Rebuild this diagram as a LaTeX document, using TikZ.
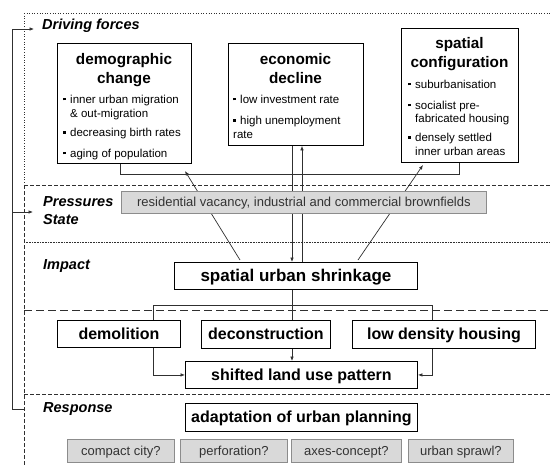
\documentclass[tikz,border=0pt]{standalone}
\usepackage{fontspec}
\setmainfont{Liberation Sans}
\usetikzlibrary{arrows.meta}
\pgfdeclarelayer{bg}
\pgfsetlayers{bg,main}
\definecolor{grayfill}{HTML}{D9D9D9}
\definecolor{grayline}{HTML}{8C8C8C}
\definecolor{graytext}{HTML}{333333}
\definecolor{linec}{HTML}{303030}
\newcommand{\blt}{\makebox[7pt][l]{\rule[2.6pt]{2.6pt}{2.6pt}}}
\begin{document}
\begin{tikzpicture}[x=1pt,y=-1pt,
  box/.style={draw=black, line width=0.9pt, fill=white, inner sep=0pt, anchor=north west,
    font=\fontsize{16}{18}\selectfont\bfseries, text height=11pt, text depth=0pt},
  graybox/.style={draw=grayline, line width=0.8pt, fill=grayfill, inner sep=0pt, anchor=north west,
    text=graytext, font=\fontsize{13}{15}\selectfont, text height=9pt, text depth=0pt},
  ttl/.style={font=\fontsize{15.3}{17}\selectfont\bfseries, anchor=base, inner sep=0pt},
  bul/.style={font=\fontsize{11.5}{13}\selectfont, anchor=base west, inner sep=0pt},
  hdr/.style={font=\fontsize{14.5}{16}\selectfont\bfseries\itshape, anchor=base west, inner sep=0pt},
  conn/.style={draw=linec, line width=0.7pt},
  arr/.style={conn, -{Latex[length=4.5pt,width=3.6pt]}},
  sep/.style={draw=linec, line width=0.6pt}
]
\useasboundingbox (0,0) rectangle (550,466);

% ---- top boxes ----
\node[box, minimum width=134pt, minimum height=120pt] (demo) at (57,43) {};
\node[box, minimum width=135pt, minimum height=102pt] (econ) at (228,43) {};
\node[box, minimum width=117pt, minimum height=134pt] (spat) at (401,28) {};

\node[ttl] (demoT1) at (124,64) {demographic};
\node[ttl] (demoT2) at (124,83) {change};
\node[bul] (demoB1) at (63,103) {\blt inner urban migration};
\node[bul] (demoB2) at (70,117) {\& out-migration};
\node[bul] (demoB3) at (63,136.5) {\blt decreasing birth rates};
\node[bul] (demoB4) at (63,157) {\blt aging of population};

\node[ttl] (econT1) at (295.5,64) {economic};
\node[ttl] (econT2) at (295.5,83) {decline};
\node[bul] (econB1) at (233,103) {\blt low investment rate};
\node[bul] (econB2) at (233,124.5) {\blt high unemployment};
\node[bul] (econB3) at (233,138) {rate};

\node[ttl] (spatT1) at (459.5,48) {spatial};
\node[ttl] (spatT2) at (459.5,67) {configuration};
\node[bul] (spatB1) at (408,88) {\blt suburbanisation};
\node[bul] (spatB2) at (408,109) {\blt socialist pre-};
\node[bul] (spatB3) at (415,122) {fabricated housing};
\node[bul] (spatB4) at (408,141.5) {\blt densely settled};
\node[bul] (spatB5) at (415,155) {inner urban areas};

% ---- middle ----
\node[graybox, minimum width=365pt, minimum height=22pt] (press) at (121,191)
  {residential vacancy, industrial and commercial brownfields};
\node[box, minimum width=243pt, minimum height=27pt, font=\fontsize{17}{19}\selectfont\bfseries] (shrink) at (174,262) {spatial urban shrinkage};

\node[box, minimum width=123pt, minimum height=27pt] (demol) at (57,320) {demolition};
\node[box, minimum width=129pt, minimum height=28pt] (decon) at (201,320) {deconstruction};
\node[box, minimum width=183pt, minimum height=28pt] (lowd) at (352,320) {low density housing};
\node[box, minimum width=232pt, minimum height=27pt] (shifted) at (185,361) {shifted land use pattern};

\node[box, minimum width=232pt, minimum height=28pt] (adapt) at (185,403) {adaptation of urban planning};
\node[graybox, minimum width=107pt, minimum height=23pt] (compact) at (67,439) {compact city?};
\node[graybox, minimum width=107pt, minimum height=23pt] (perf) at (180,439) {perforation?};
\node[graybox, minimum width=110pt, minimum height=23pt] (axes) at (291,439) {axes-concept?};
\node[graybox, minimum width=105pt, minimum height=23pt] (sprawl) at (408,439) {urban sprawl?};

% ---- headers ----
\node[hdr] (drv) at (42,29) {Driving forces};
\node[hdr] (prs) at (43,206) {Pressures};
\node[hdr] (sta) at (43,224) {State};
\node[hdr] (imp) at (43,269) {Impact};
\node[hdr] (rsp) at (43,412) {Response};

% ---- helper coordinates ----
\coordinate (xA) at (120,0);
\coordinate (xB) at (459,0);
\coordinate (v1) at (292,0);
\coordinate (v2) at (302,0);
\coordinate (xd) at (153,0);
\coordinate (xl) at (432,0);
\coordinate (brk) at (0,174);
\coordinate (hb) at (0,305);
\coordinate (dA) at (240,260);
\coordinate (dAe) at (185,171);
\coordinate (dB) at (358,260);
\coordinate (dBe) at (423,165);
\coordinate (fbR) at (25,409);
\coordinate (fbx) at (12,0);
\coordinate (aD) at (34,29);
\coordinate (aP) at (33,212);

\begin{pgfonlayer}{bg}
  % separators
  \draw[sep, dotted] (24,13) -- (550,13);
  \draw[sep, dash pattern=on 3.5pt off 2.5pt] (24,185) -- (550,185);
  \draw[sep, line width=0.5pt, dash pattern=on 0.8pt off 0.8pt] (24,242) -- (550,242);
  \draw[sep, dash pattern=on 8pt off 4pt] (24,310) -- (550,310);
  \draw[sep, dash pattern=on 3.5pt off 2.5pt] (24,394) -- (550,394);
  \draw[sep, dotted] (24,13) -- (24,185);
  \draw[sep, dash pattern=on 4pt off 2pt] (24,185) -- (24,466);

  % connectors
  \draw[conn] (xA |- demo.south) -- (xA |- brk) -- (xB |- brk) -- (xB |- spat.south);
  \draw[arr] (v1 |- econ.south) -- (v1 |- shrink.north);
  \draw[arr] (v2 |- shrink.north) -- (v2 |- econ.south);
  \draw[arr] (dA) -- (dAe);
  \draw[arr] (dB) -- (dBe);

  \draw[conn] (v1 |- shrink.south) -- (v1 |- hb);
  \draw[conn] (xd |- demol.north) -- (xd |- hb) -- (xl |- hb) -- (xl |- lowd.north);
  \draw[conn] (v1 |- hb) -- (v1 |- decon.north);
  \draw[arr] (xd |- demol.south) |- (shifted.west);
  \draw[arr] (v1 |- decon.south) -- (v1 |- shifted.north);
  \draw[arr] (xl |- lowd.south) |- (shifted.east);

  % feedback
  \draw[arr] (fbR) -- (fbx |- fbR) -- (fbx |- aD) -- (aD);
  \draw[arr] (fbx |- aP) -- (aP);
\end{pgfonlayer}
\end{tikzpicture}
\end{document}
